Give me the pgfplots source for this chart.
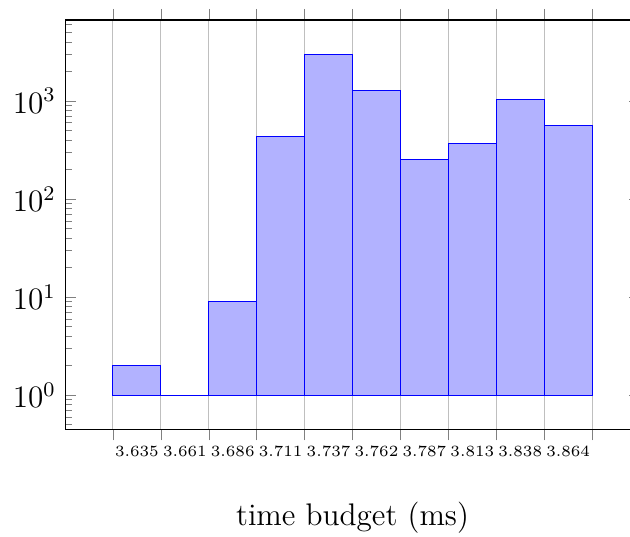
\documentclass[border=0pt]{standalone}
\usepackage{pgfplots}
\pgfplotsset{compat=1.18}
\begin{document}
\begin{tikzpicture}
\begin{axis}[
  scale only axis,
  width=221pt, height=157.3pt,
  ymode=log,
  ymin=0.45, ymax=6680,
  xmin=3.60994, xmax=3.91426,
  ybar interval,
  xtick={3.6353,3.66066,3.68602,3.71138,3.73674,3.7621,3.78746,3.81282,3.83818,3.86354,3.8889},
  xticklabels={3.635,3.661,3.686,3.711,3.737,3.762,3.787,3.813,3.838,3.864},
  x tick label as interval,
  xmajorgrids,
  ymajorgrids=false,
  xtick align=outside,
  ytick align=inside,
  xticklabel style={font=\fontsize{6}{7}\selectfont, yshift=1.5pt},
  yticklabel style={font=\fontsize{12}{14}\selectfont},
  xlabel={time budget (ms)},
  xlabel style={font=\fontsize{12}{14}\selectfont, at={(axis description cs:0.5,0)}, anchor=base, yshift=-36.9pt},
]
\addplot[draw=blue, fill=blue!30] coordinates {
  (3.6353,2) (3.66066,1) (3.68602,9) (3.71138,430) (3.73674,2990)
  (3.7621,1290) (3.78746,252) (3.81282,370) (3.83818,1045) (3.86354,560)
  (3.8889,560)
};
\end{axis}
\pgfresetboundingbox
\path[use as bounding box] ([xshift=-25pt,yshift=-41.15pt]current axis.south west) rectangle ([xshift=-3.85pt,yshift=7.69pt]current axis.north east);
\end{tikzpicture}
\end{document}
